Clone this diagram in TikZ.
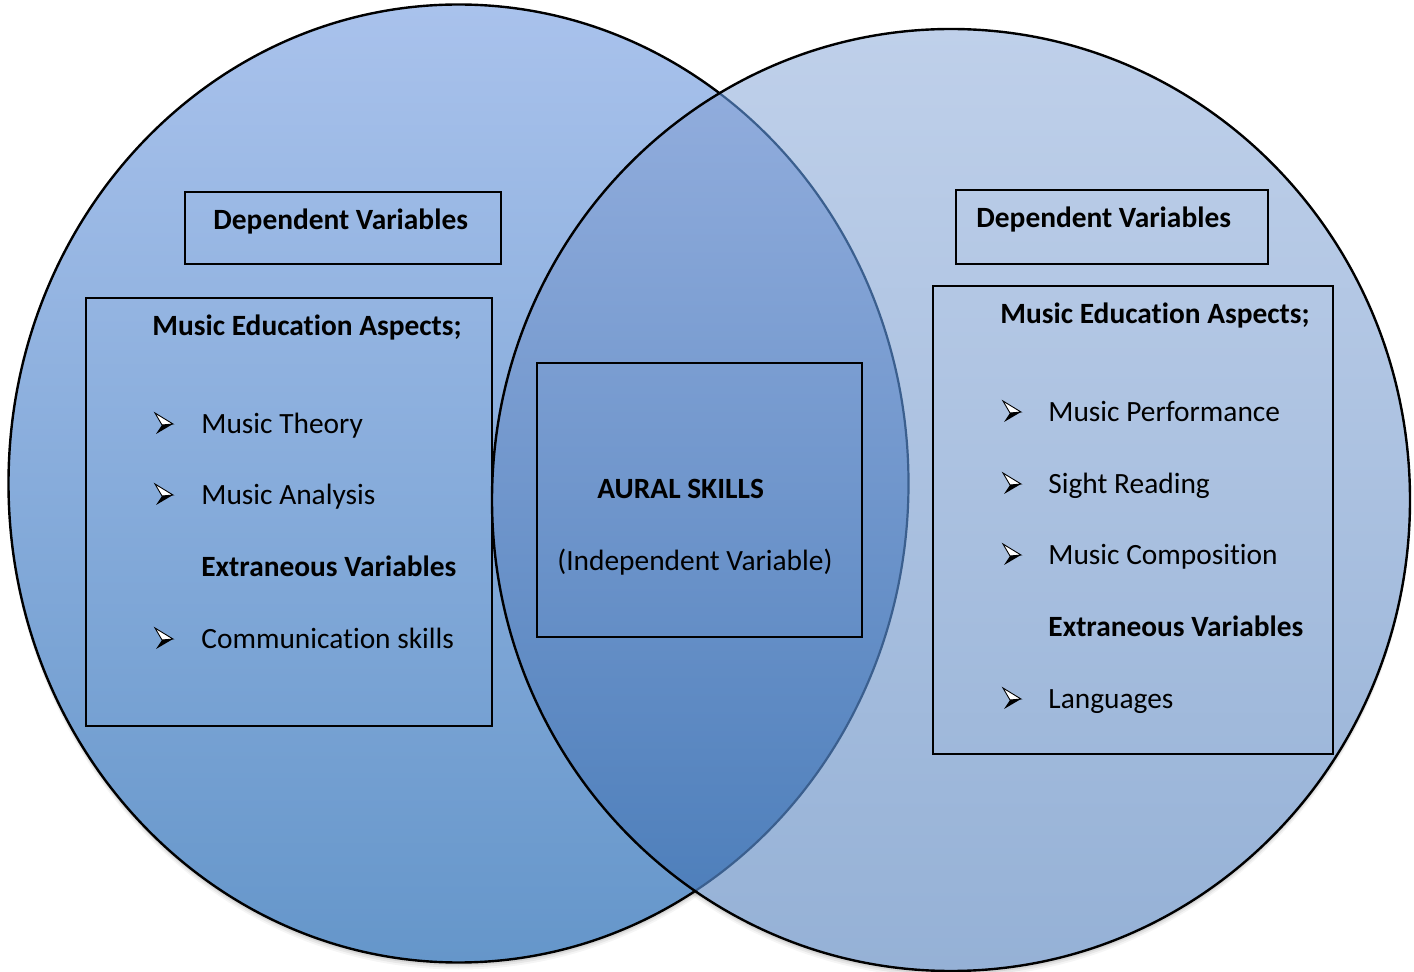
\documentclass[tikz,border=0pt]{standalone}
\usepackage{fontspec}
\setmainfont{Carlito}[Ligatures=NoCommon]
\usetikzlibrary{calc}

\definecolor{lTop}{HTML}{A9C2EC}
\definecolor{lBot}{HTML}{6596CA}
\definecolor{rTop}{HTML}{BFD0EA}
\definecolor{rBot}{HTML}{95B1D6}
\definecolor{iTop}{HTML}{96B0DF}
\definecolor{iBot}{HTML}{487BB8}
\definecolor{iEdge}{HTML}{3B5F8E}

\begin{document}
\begin{tikzpicture}[x=0.5pt,y=-0.5pt,
  box/.style={draw=black, line width=0.8pt, rectangle, inner sep=0pt},
  lbl/.style={anchor=base west, inner sep=0pt, text=black,
    font=\fontsize{14.7}{17}\selectfont},
  blbl/.style={anchor=base west, inner sep=0pt, text=black,
    font=\fontsize{14.7}{17}\selectfont\bfseries},
  ring/.style={draw=black, line width=1.2pt},
  bullet/.pic={
    \draw[line width=0.45pt, fill=white, line join=miter]
      (0,-11) -- (18,0) -- (7,1) -- cycle;
    \fill[black] (7,1) -- (18,0) -- (1,10) -- cycle;
  }]
\useasboundingbox (0,0) rectangle (1414,972);

\coordinate (lc) at (458.5,483.5);
\coordinate (rc) at (951,500);

% soft shadow under both ellipses
\foreach \d/\o in {7/0.04,5/0.06,3/0.08} {
  \fill[black, opacity=\o] ($(lc)+(0,\d)$) ellipse [x radius=450, y radius=479];
  \fill[black, opacity=\o] ($(rc)+(0,\d)$) ellipse [x radius=459, y radius=471];
}

% left ellipse
\path[top color=lTop, bottom color=lBot] (lc) ellipse [x radius=450, y radius=479];
\draw[ring] (lc) ellipse [x radius=450, y radius=479];

% right ellipse
\path[top color=rTop, bottom color=rBot] (rc) ellipse [x radius=459, y radius=471];

% overlap of the two ellipses
\begin{scope}
  \clip (lc) ellipse [x radius=450, y radius=479];
  \path[top color=iTop, bottom color=iBot] (rc) ellipse [x radius=459, y radius=471];
\end{scope}
\begin{scope}
  \clip (rc) ellipse [x radius=459, y radius=471];
  \draw[draw=iEdge, line width=1.1pt] (lc) ellipse [x radius=450, y radius=479];
\end{scope}
\draw[ring] (rc) ellipse [x radius=459, y radius=471];

% boxes
\node[box, minimum width=158pt, minimum height=36pt] (ldv) at (343,228) {};
\node[box, minimum width=203pt, minimum height=214pt] (lbox) at (289,512) {};
\node[box, minimum width=162.5pt, minimum height=137pt] (cbox) at (699.5,500) {};
\node[box, minimum width=156pt, minimum height=37pt] (rdv) at (1112,227) {};
\node[box, minimum width=200pt, minimum height=234pt] (rbox) at (1133,520) {};

% left texts
\node[blbl] (ldvt) at (213,230) {Dependent Variables};
\node[blbl] (lmea) at (152,336) {Music Education Aspects;};
\node[lbl] (lt1) at (201,434) {Music Theory};
\node[lbl] (lt2) at (201,505) {Music Analysis};
\node[blbl] (lext) at (201,577) {Extraneous Variables};
\node[lbl] (lt3) at (201,649) {Communication skills};
\pic at (155,424) {bullet};
\pic at (155,495) {bullet};
\pic at (155,639) {bullet};

% centre texts
\node[blbl] (aural) at (597,499) {AURAL SKILLS};
\node[lbl] (indep) at (557,571) {(Independent Variable)};

% right texts
\node[blbl] (rdvt) at (976,228) {Dependent Variables};
\node[blbl] (rmea) at (1000,324) {Music Education Aspects;};
\node[lbl] (rt1) at (1048,422) {Music Performance};
\node[lbl] (rt2) at (1048,494) {Sight Reading};
\node[lbl] (rt3) at (1048,565) {Music Composition};
\node[blbl] (rext) at (1048,637) {Extraneous Variables};
\node[lbl] (rt4) at (1048,709) {Languages};
\pic at (1003,412) {bullet};
\pic at (1003,484) {bullet};
\pic at (1003,555) {bullet};
\pic at (1003,699) {bullet};
\end{tikzpicture}
\end{document}
